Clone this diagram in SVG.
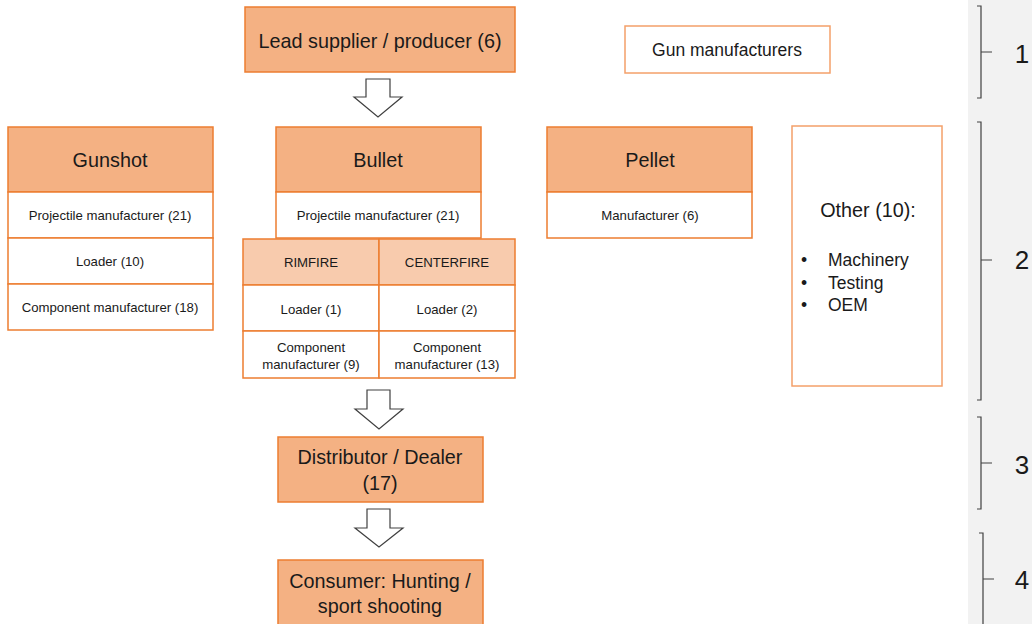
<svg xmlns="http://www.w3.org/2000/svg" width="1032" height="624" viewBox="0 0 1032 624">
<style>
.hdr{fill:#f4b183;stroke:#ed7d31;stroke-width:1.5}
.sub{fill:#f8cbad;stroke:#ed7d31;stroke-width:1.5}
.row{fill:#ffffff;stroke:#ed7d31;stroke-width:1.5}
.lite{fill:#ffffff;stroke:#f4a06a;stroke-width:1.5}
text{font-family:"Liberation Sans",Arial,sans-serif;fill:#1a1a1a;text-anchor:middle;dominant-baseline:central}
.big{font-size:19.8px}
.mid{font-size:17.5px}
.sm{font-size:13.2px}
.num{font-size:26px}
.arrow{fill:#ffffff;stroke:#404040;stroke-width:1.2}
.br{fill:none;stroke:#404040;stroke-width:1.2}
</style>
<rect x="968" y="0" width="64" height="624" fill="#f2f2f2"/>
<g id="brackets">
<path class="br" d="M977 6 H981 V98 H977 M981 52 H992"/>
<path class="br" d="M977 122 H981 V400 H977 M981 260 H992"/>
<path class="br" d="M977 417 H981 V509 H977 M981 463 H992"/>
<path class="br" d="M979 533 H983 V624 M983 579 H994"/>
<text class="num" x="1022" y="54">1</text>
<text class="num" x="1022" y="260">2</text>
<text class="num" x="1022" y="465">3</text>
<text class="num" x="1022" y="580">4</text>
</g>
<g id="connectors">
<path class="arrow" d="M366 79 H390 V97 H402 L378 117 L354 97 H366 Z"/>
<path class="arrow" d="M367 390 H390 V409 H403 L379 429 L355 409 H367 Z"/>
<path class="arrow" d="M367 509 H390 V528 H403 L379 547 L355 528 H367 Z"/>
</g>
<g id="lead">
<rect class="hdr" x="245" y="7" width="270" height="65"/>
<text class="big" x="380" y="41">Lead supplier / producer (6)</text>
</g>
<g id="gun-manufacturers">
<rect class="lite" x="625" y="26" width="205" height="47"/>
<text class="mid" x="727" y="50">Gun manufacturers</text>
</g>
<g id="gunshot">
<rect class="hdr" x="8" y="127" width="205" height="65"/>
<text class="big" x="110" y="160">Gunshot</text>
<rect class="row" x="8" y="192" width="205" height="46"/>
<text class="sm" x="110" y="215">Projectile manufacturer (21)</text>
<rect class="row" x="8" y="238" width="205" height="46"/>
<text class="sm" x="110" y="261">Loader (10)</text>
<rect class="row" x="8" y="284" width="205" height="46"/>
<text class="sm" x="110" y="307">Component manufacturer (18)</text>
</g>
<g id="bullet">
<rect class="hdr" x="276" y="127" width="205" height="65"/>
<text class="big" x="378" y="160">Bullet</text>
<rect class="row" x="276" y="192" width="205" height="46"/>
<text class="sm" x="378" y="215">Projectile manufacturer (21)</text>
</g>
<g id="rimfire">
<rect class="sub" x="243" y="239" width="136" height="46"/>
<text class="sm" x="311" y="262">RIMFIRE</text>
<rect class="row" x="243" y="285" width="136" height="46"/>
<text class="sm" x="311" y="309">Loader (1)</text>
<rect class="row" x="243" y="331" width="136" height="47"/>
<text class="sm" x="311" y="347">Component</text>
<text class="sm" x="311" y="364">manufacturer (9)</text>
</g>
<g id="centerfire">
<rect class="sub" x="379" y="239" width="136" height="46"/>
<text class="sm" x="447" y="262">CENTERFIRE</text>
<rect class="row" x="379" y="285" width="136" height="46"/>
<text class="sm" x="447" y="309">Loader (2)</text>
<rect class="row" x="379" y="331" width="136" height="47"/>
<text class="sm" x="447" y="347">Component</text>
<text class="sm" x="447" y="364">manufacturer (13)</text>
</g>
<g id="pellet">
<rect class="hdr" x="547" y="127" width="205" height="65"/>
<text class="big" x="650" y="160">Pellet</text>
<rect class="row" x="547" y="192" width="205" height="46"/>
<text class="sm" x="650" y="215">Manufacturer (6)</text>
</g>
<g id="other">
<rect class="lite" x="792" y="126" width="150" height="260"/>
<text class="big" x="868" y="210">Other (10):</text>
<text class="mid" x="804" y="260">•</text>
<text class="mid" x="804" y="283">•</text>
<text class="mid" x="804" y="305">•</text>
<text class="mid" x="828" y="260" style="text-anchor:start">Machinery</text>
<text class="mid" x="828" y="283" style="text-anchor:start">Testing</text>
<text class="mid" x="828" y="305" style="text-anchor:start">OEM</text>
</g>
<g id="distributor">
<rect class="hdr" x="278" y="437" width="205" height="65"/>
<text class="big" x="380" y="457">Distributor / Dealer</text>
<text class="big" x="380" y="483">(17)</text>
</g>
<g id="consumer">
<rect class="hdr" x="278" y="560" width="205" height="70"/>
<text class="big" x="380" y="581">Consumer: Hunting /</text>
<text class="big" x="380" y="606">sport shooting</text>
</g>
</svg>
